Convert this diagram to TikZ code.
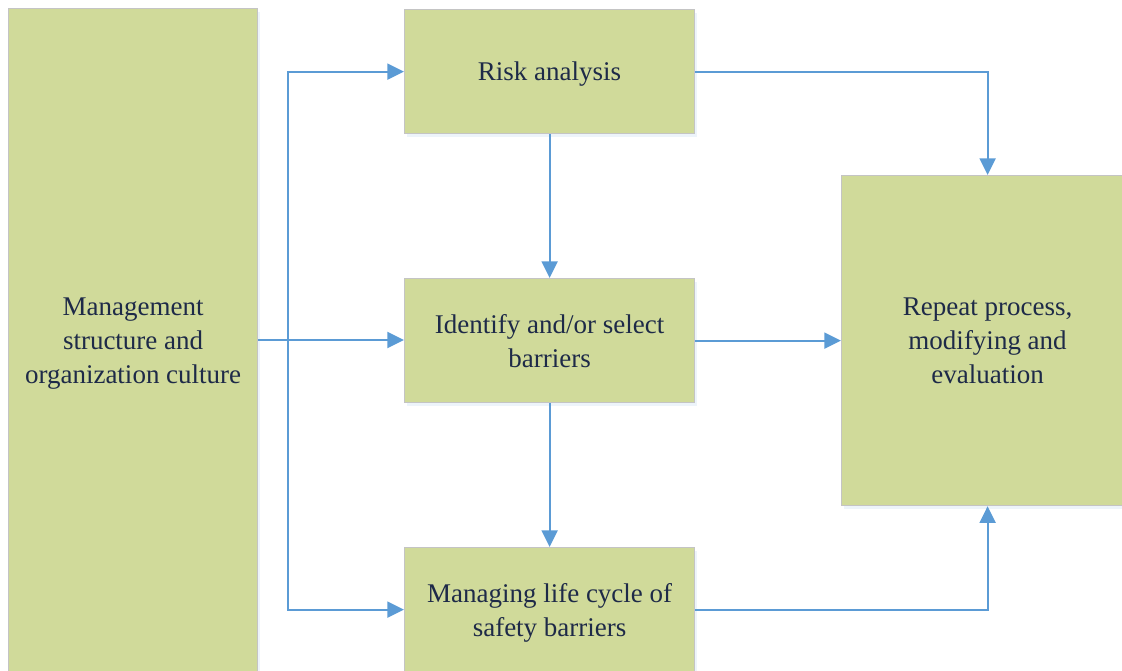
\documentclass[tikz,border=0pt]{standalone}
\usepackage{fontspec}
\setmainfont{Liberation Serif}
\usetikzlibrary{arrows.meta,shadows}
\definecolor{boxfill}{RGB}{208,218,154}
\definecolor{boxline}{RGB}{196,196,196}
\definecolor{flow}{RGB}{91,155,213}
\definecolor{ink}{RGB}{30,42,72}
\tikzset{
  stagebox/.style={draw=boxline, line width=0.9pt, fill=boxfill, text=ink,
    align=center, inner sep=0pt, anchor=north west, text depth=0pt,
    font=\fontsize{20.25}{25.5}\selectfont,
    drop shadow={opacity=0.18, fill=flow!60, shadow xshift=1.5pt, shadow yshift=-2.5pt}},
  flowline/.style={draw=flow, line width=1.5pt, -{Triangle[length=12.5pt,width=12pt]}}
}
\begin{document}
\begin{tikzpicture}[x=0.75pt,y=-0.75pt]
\useasboundingbox (0,0) rectangle (1122,671);
\clip (0,0) rectangle (1122,671);
% boxes (sizes in px of the 1122x671 layout)
\node[stagebox, minimum width=249*0.75pt, minimum height=664*0.75pt] (mgmt) at (8,8)
  {Management\\structure and\\organization culture};
\node[stagebox, minimum width=290*0.75pt, minimum height=124*0.75pt] (risk) at (404,9)
  {Risk analysis};
\node[stagebox, minimum width=290*0.75pt, minimum height=124*0.75pt] (ident) at (404,278)
  {Identify and/or select\\barriers};
\node[stagebox, minimum width=290*0.75pt, minimum height=124*0.75pt] (life) at (404,547)
  {Managing life cycle of\\safety barriers};
\node[stagebox, minimum width=292*0.75pt, minimum height=330*0.75pt] (repeat) at (841,175)
  {Repeat process,\\modifying and\\evaluation};
% connectors
\coordinate (split) at (288,340);
\draw[flowline] (mgmt.east |- split) -- (ident.west |- split);
\draw[flowline] (split) |- (risk.west);
\draw[flowline] (split) |- (life.west);
\draw[flowline] (risk.south) -- (ident.north);
\draw[flowline] (ident.south) -- (life.north);
\draw[flowline] (risk.east) -| (repeat.north);
\draw[flowline] (ident.east) -- (repeat.west |- ident.east);
\draw[flowline] (life.east) -| (repeat.south);
\end{tikzpicture}
\end{document}
